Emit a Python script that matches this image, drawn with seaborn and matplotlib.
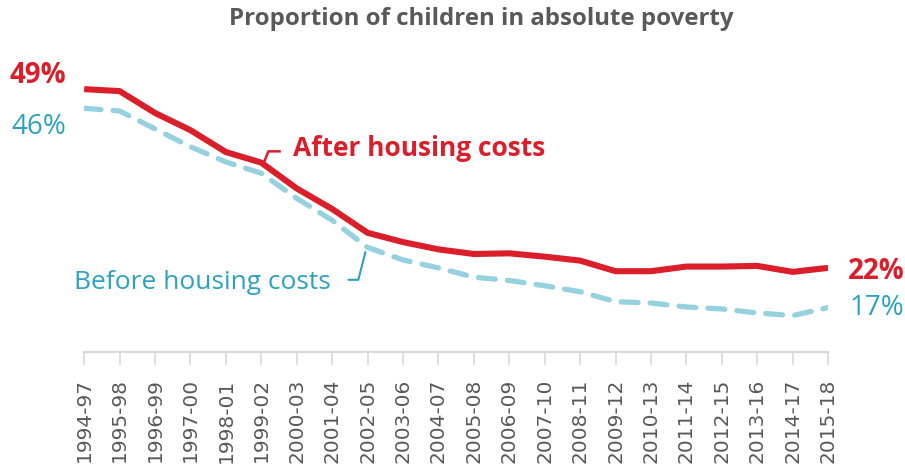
import seaborn as sns
import matplotlib.pyplot as plt
import pandas as pd

periods = ["1994-97", "1995-98", "1996-99", "1997-00", "1998-01", "1999-02",
           "2000-03", "2001-04", "2002-05", "2003-06", "2004-07", "2005-08",
           "2006-09", "2007-10", "2008-11", "2009-12", "2010-13", "2011-14",
           "2012-15", "2013-16", "2014-17", "2015-18"]
after_hc = [49.0, 48.7, 45.4, 42.8, 39.5, 37.9, 34.0, 30.9, 27.3, 25.9, 24.8,
            24.1, 24.2, 23.7, 23.1, 21.5, 21.5, 22.2, 22.2, 22.3, 21.4, 22.0]
before_hc = [46.1, 45.7, 43.0, 40.3, 38.0, 36.3, 32.5, 29.2, 25.1, 23.2, 22.0,
             20.6, 20.1, 19.3, 18.4, 16.9, 16.7, 16.1, 15.8, 15.2, 14.8, 16.0]

RED = "#DA1F2B"
BLUE_LINE = "#96D1DF"
BLUE_TEXT = "#2BA3C0"
GREY = "#595959"

df = pd.DataFrame({"period": periods, "after": after_hc, "before": before_hc})
df["pos"] = range(len(df))

sns.set_theme(style="white")
plt.rcParams["font.family"] = ["Open Sans", "DejaVu Sans"]

fig = plt.figure(figsize=(9.05, 4.69), dpi=100)
ax = fig.add_axes([0.093, 0.2495, 0.822, 0.6226])

sns.lineplot(data=df, x="pos", y="before", ax=ax, color=BLUE_LINE, lw=3.8,
             linestyle=(0, (3.2, 2.3)), dash_capstyle="round")
sns.lineplot(data=df, x="pos", y="after", ax=ax, color=RED, lw=4.4,
             solid_joinstyle="round", solid_capstyle="butt")

ax.set_xlim(0, len(periods) - 1)
ax.set_ylim(9.3, 53.4)
ax.set_xticks(df["pos"])
ax.set_xticklabels(periods, rotation=90, fontsize=14.5, color=GREY,
                   family="DejaVu Sans", va="top")
ax.set_yticks([])
ax.set_xlabel("")
ax.set_ylabel("")
for s in ["top", "right", "left"]:
    ax.spines[s].set_visible(False)
ax.spines["bottom"].set_color("#D9D9D9")
ax.spines["bottom"].set_linewidth(1.5)
ax.tick_params(axis="x", bottom=True, length=9, width=1.2, color="#D9D9D9", pad=10)

# end labels
ax.text(-0.5, 49.0 + 2.1, "49%", color=RED, fontsize=20, fontweight="bold",
        ha="right", va="center")
ax.text(-0.5, 46.1 - 2.8, "46%", color=BLUE_TEXT, fontsize=20,
        ha="right", va="center")
ax.text(21.55, 22.0 - 0.6, "22%", color=RED, fontsize=20, fontweight="bold",
        ha="left", va="center")
ax.text(21.6, 16.0 - 0.1, "17%", color=BLUE_TEXT, fontsize=20,
        ha="left", va="center")

# series labels with leader lines
ax.text(5.9, 40.1, "After housing costs", color=RED, fontsize=19,
        fontweight="bold", ha="left", va="center")
ax.plot([5.05, 5.2, 5.55], [37.6, 39.6, 39.6], color=RED, lw=1.8,
        solid_capstyle="butt")
ax.text(6.97, 19.8, "Before housing costs", color=BLUE_TEXT, fontsize=19,
        ha="right", va="center")
ax.plot([7.46, 7.74, 7.94], [20.2, 20.2, 24.4], color=BLUE_TEXT, lw=1.5)

fig.suptitle("Proportion of children in absolute poverty", x=0.532, y=0.985,
             fontsize=17.3, fontweight="bold", color=GREY, va="top")

fig.savefig("out.png", dpi=100)
